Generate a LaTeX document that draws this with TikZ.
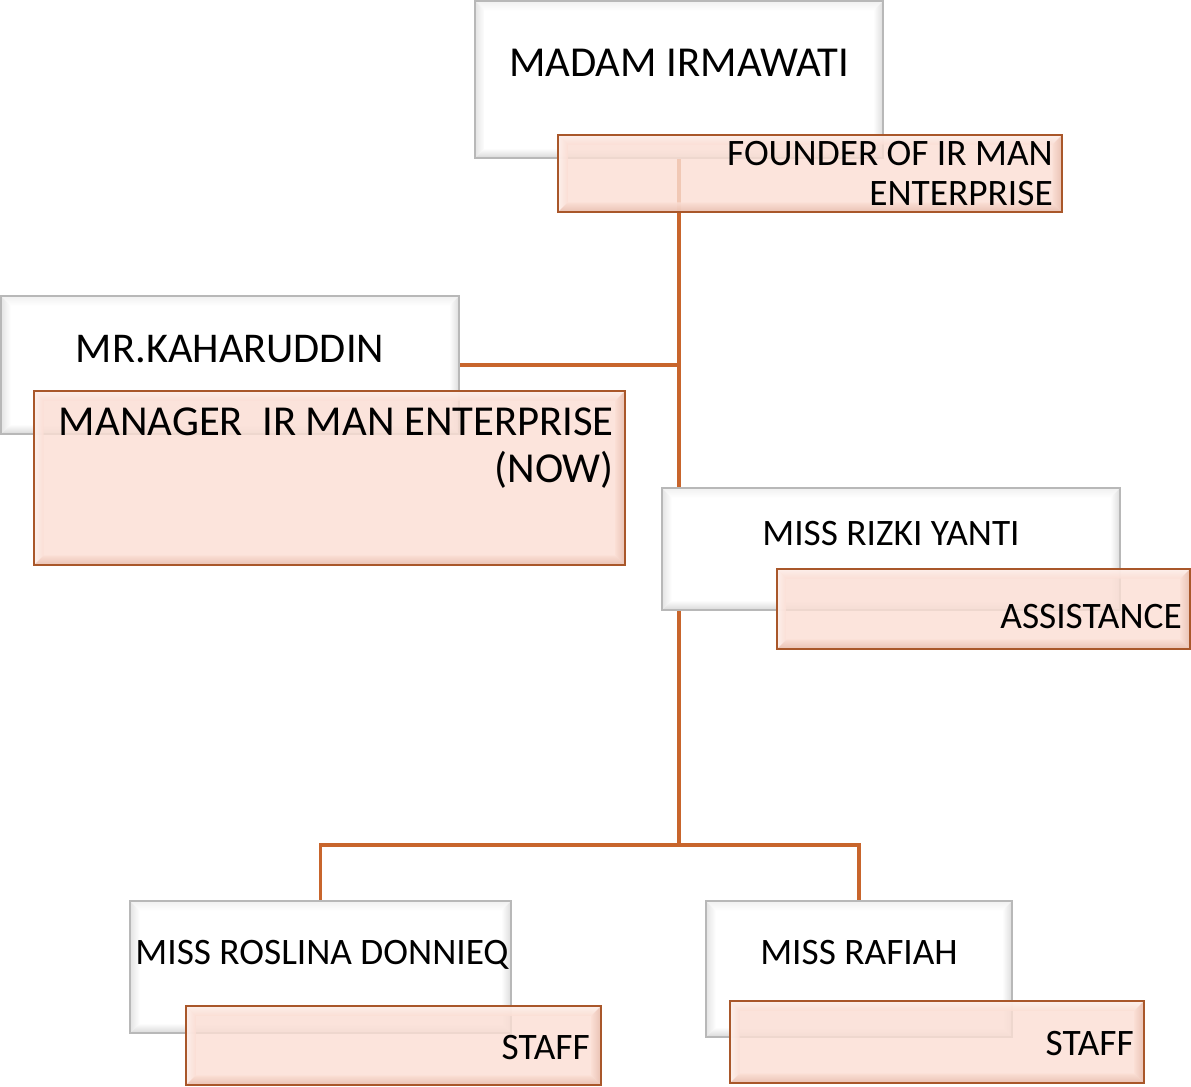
\documentclass[tikz,border=0pt]{standalone}
\usepackage{fontspec}
\setmainfont{Carlito}
\usetikzlibrary{fit,calc,backgrounds}
\definecolor{orfill}{HTML}{FBDED4}
\definecolor{ordraw}{HTML}{A9572A}
\definecolor{orline}{HTML}{C8652C}
\definecolor{wdraw}{HTML}{B8B8B8}
\definecolor{orlight}{HTML}{FEF2EE}
\definecolor{ordark}{HTML}{E6BBAA}
\tikzset{
  wbox/.style={inner sep=0pt, fill=white},
  obox/.style={inner sep=0pt, fill=orfill, fill opacity=0.82},
  wedge/.style={draw=wdraw, line width=1.2pt},
  oedge/.style={draw=ordraw, line width=1.6pt},
  wtop/.style={top color=gray!12, bottom color=white},
  wleft/.style={left color=gray!22, right color=white},
  wright/.style={left color=white, right color=gray!28},
  wbot/.style={top color=white, bottom color=gray!32},
  otop/.style={top color=orlight, bottom color=orfill, fill opacity=0.85},
  oleft/.style={left color=orlight, right color=orfill, fill opacity=0.85},
  oright/.style={left color=orfill, right color=ordark, fill opacity=0.85},
  obot/.style={top color=orfill, bottom color=ordark, fill opacity=0.85},
  txt/.style={inner sep=0pt, text=black},
  namefont/.style={font=\fontsize{28}{33}\selectfont},
  connector/.style={draw=orline, line width=2.3pt},
}
\newcommand\bevelbox[2]{%
  \path[#2top] (#1.north west) -- (#1.north east) -- ($(#1.north east)+(-10,10)$) -- ($(#1.north west)+(10,10)$) -- cycle;
  \path[#2left] (#1.north west) -- ($(#1.north west)+(10,10)$) -- ($(#1.south west)+(10,-10)$) -- (#1.south west) -- cycle;
  \path[#2right] (#1.north east) -- (#1.south east) -- ($(#1.south east)+(-10,-10)$) -- ($(#1.north east)+(-10,10)$) -- cycle;
  \path[#2bot] (#1.south west) -- (#1.south east) -- ($(#1.south east)+(-10,-10)$) -- ($(#1.south west)+(10,-10)$) -- cycle;
  \draw[#2edge] (#1.north west) rectangle (#1.south east);
}
\begin{document}
\begin{tikzpicture}[x=0.75pt,y=-0.75pt]
\useasboundingbox (0,0) rectangle (1191,1086);
% white boxes
\node[wbox, fit={(475,1)(883,158)}] (madam) {};
\bevelbox{madam}{w}
\node[wbox, fit={(1,296)(459,434)}] (kah) {};
\bevelbox{kah}{w}
\node[wbox, fit={(662,488)(1120,610)}] (rizki) {};
\bevelbox{rizki}{w}
\node[wbox, fit={(130,901)(511,1033)}] (roslina) {};
\bevelbox{roslina}{w}
\node[wbox, fit={(706,901)(1012,1037)}] (rafiah) {};
\bevelbox{rafiah}{w}
% orange boxes
\node[obox, fit={(558,135)(1062,212)}] (founder) {};
\bevelbox{founder}{o}
\node[obox, fit={(34,391)(625,565)}] (manager) {};
\bevelbox{manager}{o}
\node[obox, fit={(777,569)(1190,649)}] (assist) {};
\bevelbox{assist}{o}
\node[obox, fit={(186,1006)(601,1085)}] (staffa) {};
\bevelbox{staffa}{o}
\node[obox, fit={(730,1001)(1144,1083)}] (staffb) {};
\bevelbox{staffb}{o}
% connectors
\coordinate (j) at (679,845);
\begin{pgfonlayer}{background}
\draw[connector] (madam.south) -- (j);
\draw[connector] (kah.east) -- (kah.east -| madam.south);
\draw[connector] (roslina.north) |- (j) -| (rafiah.north);
\end{pgfonlayer}
% texts
\node[txt, anchor=base, font=\fontsize{32}{36}\selectfont] (madamt) at (679,76) {MADAM IRMAWATI};
\node[txt, anchor=north east, align=right, font=\fontsize{28}{30}\selectfont] (foundert) at (1053,141) {FOUNDER OF IR MAN\\ENTERPRISE};
\node[txt, anchor=base, font=\fontsize{31.8}{36}\selectfont] (kaht) at (230,362) {MR.KAHARUDDIN};
\node[txt, anchor=north east, align=right, font=\fontsize{32}{35}\selectfont] (mant) at (614,408) {MANAGER\ \ IR MAN ENTERPRISE\\(NOW)};
\node[txt, namefont, anchor=base] (rizkit) at (891,545) {MISS RIZKI YANTI};
\node[txt, namefont, anchor=base east] (asst) at (1182,628) {ASSISTANCE};
\node[txt, namefont, anchor=base] (roslinat) at (322,964) {MISS ROSLINA DONNIEQ};
\node[txt, namefont, anchor=base east] (staffat) at (590,1059) {STAFF};
\node[txt, namefont, anchor=base] (rafiaht) at (859,964) {MISS RAFIAH};
\node[txt, namefont, anchor=base east] (staffbt) at (1134,1055) {STAFF};
\end{tikzpicture}
\end{document}
